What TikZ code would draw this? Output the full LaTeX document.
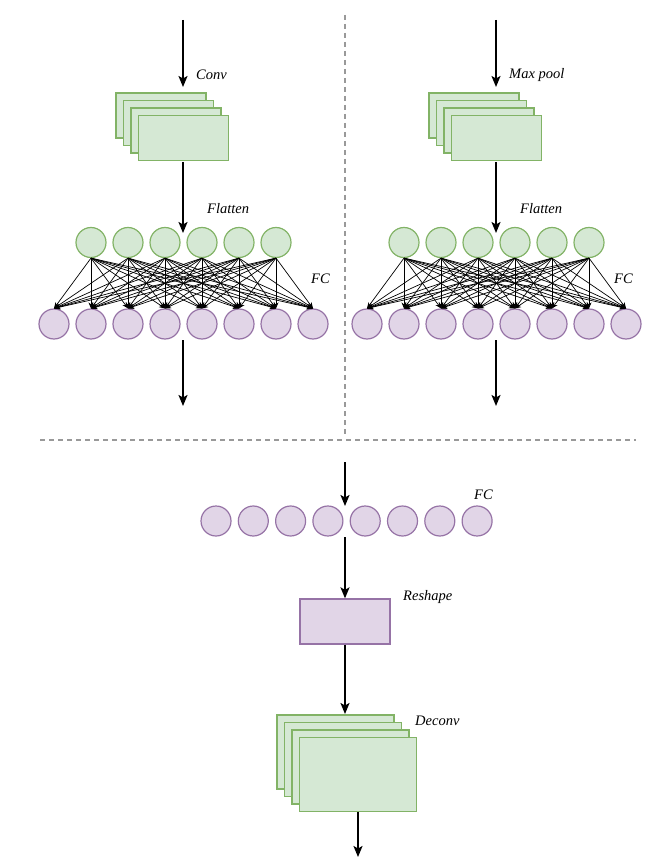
\documentclass[tikz,border=0pt]{standalone}
\usepackage{fontspec}
\setmainfont{Liberation Serif}
\usetikzlibrary{arrows.meta}
\definecolor{gfill}{HTML}{D5E8D4}
\definecolor{gline}{HTML}{82B366}
\definecolor{pfill}{HTML}{E1D5E7}
\definecolor{pline}{HTML}{9673A6}
\definecolor{dashgray}{HTML}{999999}
\tikzset{
  gcirc/.style={circle,draw=gline,fill=gfill,line width=1.2pt,minimum size=30pt,inner sep=0pt},
  pcirc/.style={circle,draw=pline,fill=pfill,line width=1.2pt,minimum size=30pt,inner sep=0pt},
  grect/.style={rectangle,draw=gline,fill=gfill,line width=1.3pt,inner sep=0pt},
  prect/.style={rectangle,draw=pline,fill=pfill,line width=1.3pt,inner sep=0pt},
  mainarrow/.style={line width=1.7pt,-{Stealth[length=11pt,width=9pt,inset=2.5pt]}},
  fcedge/.style={line width=0.7pt,-{Stealth[length=6pt,width=5pt]}},
  lbl/.style={font=\itshape\fontsize{14.5}{16}\selectfont,anchor=west,inner sep=0pt},
  sep/.style={dashgray,line width=1.3pt,dash pattern=on 5pt off 4pt}
}
\begin{document}
\begin{tikzpicture}[x=1pt,y=-1pt]
\useasboundingbox (0,0) rectangle (662,858);
% separators
\draw[sep] (345,15) -- (345,437);
\draw[sep] (40,440) -- (636,440);

% ---------- top-left ----------
\coordinate (cinL) at (183,20);
\foreach \i/\dx in {1/0,2/7.5,3/15,4/22.5}{
  \node[grect,minimum width=90pt,minimum height=45pt] (cl\i) at (161+\dx,115.5+\dx) {};
}
\draw[mainarrow] (cinL) -- (183,87);
\node[lbl] (convlbl) at (196,75) {Conv};
\foreach \i in {1,...,6}{
  \node[gcirc] (gl\i) at ({91+37*(\i-1)},242.5) {};
}
\foreach \j in {1,...,8}{
  \node[pcirc] (pl\j) at ({54+37*(\j-1)},324) {};
}
\draw[mainarrow] (183,162) -- (183,233);
\node[lbl] (flatL) at (207,209) {Flatten};
\foreach \i in {1,...,6}{
  \foreach \j in {1,...,8}{
    \draw[fcedge] (gl\i.south) -- (pl\j.north);
  }
}
\node[lbl] (fcL) at (311,279) {FC};
\coordinate (outL) at (183,406);
\draw[mainarrow] (183,340) -- (outL);

% ---------- top-right ----------
\coordinate (cinR) at (496,20);
\foreach \i/\dx in {1/0,2/7.5,3/15,4/22.5}{
  \node[grect,minimum width=90pt,minimum height=45pt] (cr\i) at (474+\dx,115.5+\dx) {};
}
\draw[mainarrow] (cinR) -- (496,87);
\node[lbl] (poollbl) at (509,75) {Max pool};
\foreach \i in {1,...,6}{
  \node[gcirc] (gr\i) at ({404+37*(\i-1)},242.5) {};
}
\foreach \j in {1,...,8}{
  \node[pcirc] (pr\j) at ({367+37*(\j-1)},324) {};
}
\draw[mainarrow] (496,162) -- (496,233);
\node[lbl] (flatR) at (520,209) {Flatten};
\foreach \i in {1,...,6}{
  \foreach \j in {1,...,8}{
    \draw[fcedge] (gr\i.south) -- (pr\j.north);
  }
}
\node[lbl] (fcR) at (614,279) {FC};
\coordinate (outR) at (496,406);
\draw[mainarrow] (496,340) -- (outR);

% ---------- bottom ----------
\coordinate (inB) at (345,462);
\foreach \j in {1,...,8}{
  \node[pcirc] (pb\j) at ({216+37.3*(\j-1)},521) {};
}
\draw[mainarrow] (inB) -- (345,506);
\node[lbl] (fcB) at (474,495) {FC};
\node[prect,minimum width=90pt,minimum height=45pt] (reshape) at (345,621.5) {};
\draw[mainarrow] (345,537) -- (reshape.north);
\node[lbl] (reshlbl) at (403,597) {Reshape};
\foreach \i/\dx in {1/0,2/7.5,3/15,4/22.5}{
  \node[grect,minimum width=117pt,minimum height=74pt] (dc\i) at (335.5+\dx,752+\dx) {};
}
\draw[mainarrow] (reshape.south) -- (345,714);
\node[lbl] (deconvlbl) at (415,721) {Deconv};
\coordinate (outB) at (358,857);
\draw[mainarrow] (dc4.south -| outB) -- (outB);
\end{tikzpicture}
\end{document}
